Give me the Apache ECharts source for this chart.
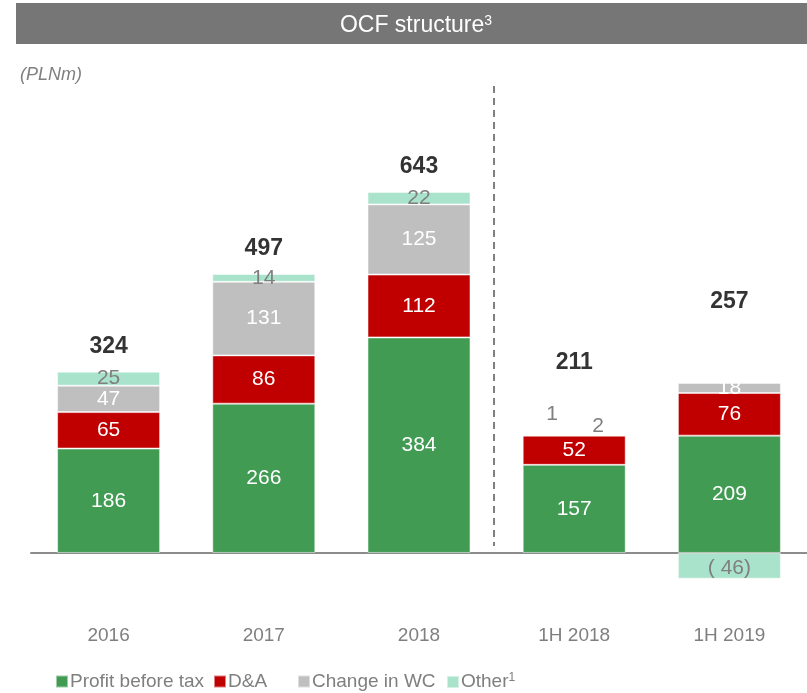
<!DOCTYPE html>
<html>
<head>
<meta charset="utf-8">
<script src="https://cdn.jsdelivr.net/npm/echarts@6/dist/echarts.min.js"></script>
<style>
  html, body { margin: 0; padding: 0; background: #fff; }
  #chart { width: 807px; height: 693px; }
</style>
</head>
<body>
<div id="chart"></div>
<script>
// data (PLNm)
const categories = ['2016', '2017', '2018', '1H 2018', '1H 2019'];
const profitBeforeTax = [186, 266, 384, 157, 209];
const depreciation = [65, 86, 112, 52, 76];
const changeInWC = [47, 131, 125, 1, 18];
const other = [25, 14, 22, 2, -46];
const totals = [324, 497, 643, 211, 257];
const seriesNames = ['Profit before tax', 'D&A', 'Change in WC', 'Other'];

const font = '"Liberation Sans", Arial, sans-serif';
const grey = '#7f7f7f';

// label offsets for the thin 1H 2018 slices and the totals
const wcOffsets = [null, null, null, [-22, -21], null];
const otherOffsets = [null, null, null, [24, -8], [0, 2]];
const totalOffsets = [-24, -25, -25, -72, -107];
const legendLeft = [50, 208, 292, 441];

const chart = echarts.init(document.getElementById('chart'));

function barSeries(name, values, color, labelColor, offsets) {
  return {
    name: name,
    type: 'bar',
    stack: 'ocf',
    barWidth: 103,
    itemStyle: { color: color, borderColor: 'rgba(255,255,255,0.5)', borderWidth: 1 },
    label: {
      show: true,
      position: 'inside',
      color: labelColor,
      fontFamily: font,
      fontSize: 21,
      formatter: p => p.value < 0 ? '( ' + Math.abs(p.value) + ')' : String(p.value)
    },
    data: values.map((v, i) => {
      const item = { value: v };
      if (offsets && offsets[i]) {
        item.label = { offset: offsets[i], color: grey };
      }
      return item;
    })
  };
}

const option = {
  animation: false,
  backgroundColor: '#ffffff',
  textStyle: { fontFamily: font },
  title: {
    text: 'OCF structure{sup|3}',
    left: 411,
    textAlign: 'center',
    top: 9,
    textStyle: {
      color: '#ffffff',
      fontFamily: font,
      fontSize: 23,
      fontWeight: 'normal',
      rich: { sup: { fontSize: 14, verticalAlign: 'top', color: '#ffffff', fontFamily: font, padding: [0, 0, 10, 0] } }
    }
  },
  graphic: [
    { type: 'rect', z: -1, shape: { x: 16, y: 3, width: 791, height: 41 }, style: { fill: '#767676' } },
    { type: 'text', left: 20, top: 66, style: { text: '(PLNm)', fill: grey, font: 'italic 18px ' + font } },
    { type: 'line', shape: { x1: 494, y1: 86, x2: 494, y2: 546 }, style: { stroke: '#808080', lineWidth: 2, lineDash: [7, 5] } }
  ],
  legend: seriesNames.map((n, i) => ({
    top: 667,
    left: legendLeft[i],
    itemWidth: 12,
    itemHeight: 12,
    icon: 'rect',
    data: [n],
    formatter: name => name === 'Other' ? 'Other{sup|1}' : name,
    textStyle: {
      color: grey,
      fontFamily: font,
      fontSize: 19,
      padding: [0, 0, 0, -3],
      rich: { sup: { fontSize: 12, verticalAlign: 'top', color: grey, fontFamily: font, padding: [0, 0, 8, 0] } }
    }
  })),
  grid: { left: 31, width: 780, top: 132, height: 449 },
  xAxis: {
    type: 'category',
    data: categories,
    axisTick: { show: false },
    axisLine: { onZero: true, lineStyle: { color: '#8c8c8c', width: 2 } },
    axisLabel: { color: grey, fontFamily: font, fontSize: 19, margin: 45 }
  },
  yAxis: {
    type: 'value',
    min: -50,
    max: 750,
    show: false,
    splitLine: { show: false }
  },
  series: [
    barSeries(seriesNames[0], profitBeforeTax, '#419b53', '#ffffff'),
    barSeries(seriesNames[1], depreciation, '#c00000', '#ffffff'),
    barSeries(seriesNames[2], changeInWC, '#bfbfbf', '#ffffff', wcOffsets),
    barSeries(seriesNames[3], other, '#aae3cb', grey, otherOffsets),
    {
      name: 'total',
      type: 'scatter',
      symbolSize: 0,
      silent: true,
      data: totals.map((v, i) => ({
        value: v,
        label: { offset: [0, totalOffsets[i]] }
      })),
      label: {
        show: true,
        position: 'inside',
        color: '#000000',
        fontFamily: font,
        fontSize: 23,
        fontWeight: 'bold'
      }
    }
  ]
};

chart.setOption(option);
</script>
</body>
</html>
